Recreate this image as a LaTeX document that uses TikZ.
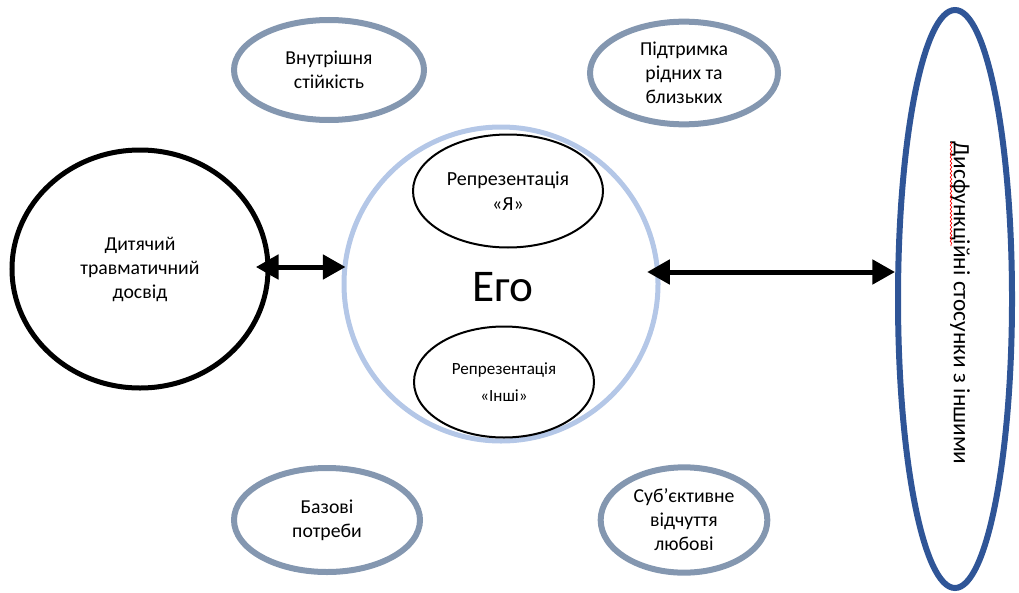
\documentclass[tikz,border=0pt]{standalone}
\usepackage{fontspec}
\setmainfont{Carlito}
\usetikzlibrary{shapes.geometric,arrows.meta,decorations.pathmorphing}
\definecolor{grayblue}{HTML}{8497B0}
\definecolor{lightblue}{HTML}{B4C7E7}
\definecolor{darkblue}{HTML}{2F5597}
\tikzset{
  oval/.style={ellipse,inner sep=0pt,align=center,font=\fontsize{14.8}{18}\selectfont},
  grayoval/.style={oval,draw=grayblue,line width=4.5pt},
  rep/.style={oval,draw=black,line width=1.5pt},
  dblarrow/.style={line width=3.75pt,{Triangle[length=17pt,width=18pt]}-{Triangle[length=17pt,width=18pt]}}
}
\begin{document}
\begin{tikzpicture}[x=0.75pt,y=-0.75pt]
\useasboundingbox (0,0) rectangle (1019,592);
\node[oval,draw=black,line width=3.75pt,minimum width=192pt,minimum height=178.5pt] (trauma) at (140,269) {Дитячий\\травматичний\\досвід};
\node[oval,draw=lightblue,line width=3.75pt,minimum width=235.5pt,minimum height=235.5pt] (ego) at (501,284) {};
\node[font=\fontsize{34}{40}\selectfont] (egotext) at (503,287) {Его};
\node[rep,minimum width=142.5pt,minimum height=84.75pt,font=\fontsize{15}{19}\selectfont] (selfrep) at (508,191) {Репрезентація\\«Я»};
\node[rep,minimum width=135pt,minimum height=83.25pt,font=\fontsize{12.8}{20}\selectfont] (otherrep) at (504,382) {Репрезентація\\«Інші»};
\node[oval,draw=darkblue,line width=4.5pt,minimum width=85.5pt,minimum height=433.5pt] (dys) at (955,299) {};
\node[rotate=-90,font=\fontsize{17.5}{20}\selectfont] (dystext) at (960,303) {Дисфункційні стосунки з іншими};
\draw[red,line width=0.5pt,decorate,decoration={snake,amplitude=0.6pt,segment length=3pt}] (951,142) -- (951,246);
\node[grayoval,minimum width=142.5pt,minimum height=75pt] (inner) at (329,70) {Внутрішня\\стійкість};
\node[grayoval,minimum width=141pt,minimum height=77pt] (support) at (684,73) {Підтримка\\рідних та\\близьких};
\node[grayoval,minimum width=139.5pt,minimum height=78pt] (basic) at (327,520) {Базові\\потреби};
\node[grayoval,minimum width=125pt,minimum height=79pt] (love) at (684,520) {Суб’єктивне\\відчуття\\любові};
\draw[dblarrow] ([xshift=-11pt,yshift=1.5pt]trauma.east) -- ([xshift=3pt,yshift=12.75pt]ego.west);
\draw[dblarrow] ([xshift=-10pt,yshift=9pt]ego.east) -- ([yshift=20.25pt]dys.west);
\end{tikzpicture}
\end{document}
